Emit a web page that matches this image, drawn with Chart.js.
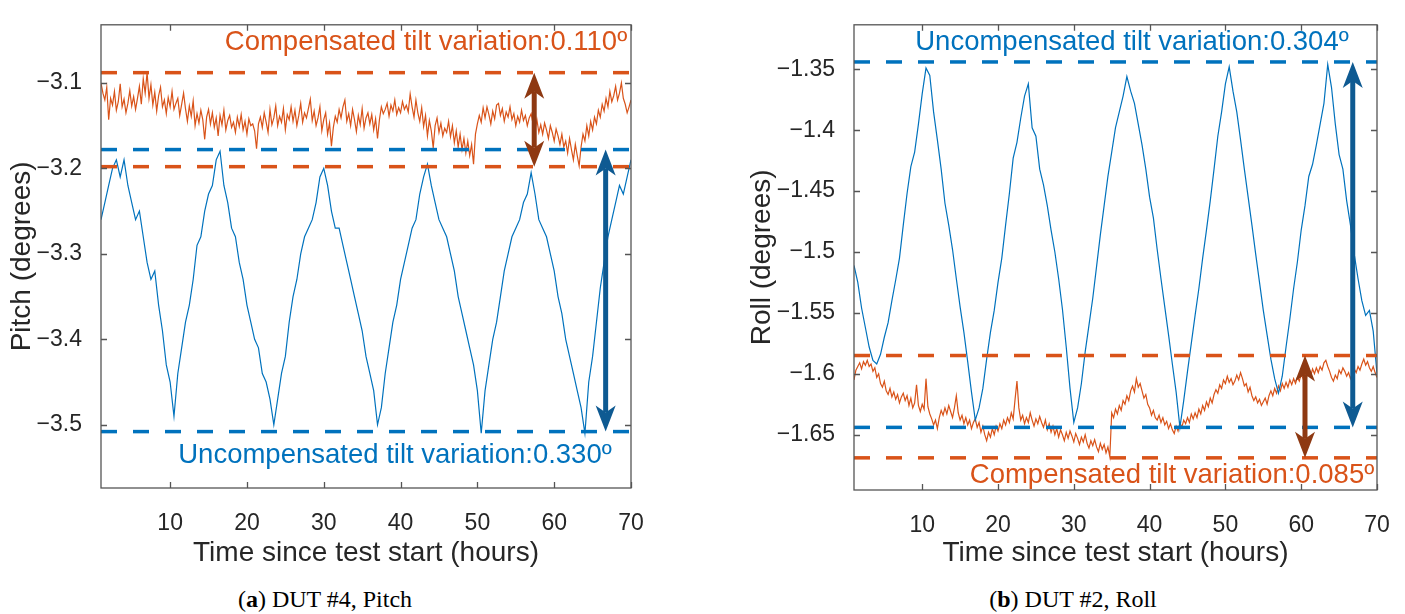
<!DOCTYPE html>
<html>
<head>
<meta charset="utf-8">
<script src="https://cdn.jsdelivr.net/npm/chart.js@4.4.1/dist/chart.umd.min.js"></script>
<style>
  body { margin: 0; background: #fff; width: 1405px; height: 614px; overflow: hidden; position: relative; }
  canvas { position: absolute; top: 0; }
  #pitchCanvas { left: 0; }
  #rollCanvas { left: 740px; }
  .caption { position: absolute; top: 587px; width: 400px; text-align: center; font-family: "Liberation Serif", serif; font-size: 24px; line-height: 24px; color: #000; }
</style>
</head>
<body>
<canvas id="pitchCanvas" width="700" height="580" style="width:700px;height:580px"></canvas>
<canvas id="rollCanvas" width="665" height="580" style="width:665px;height:580px"></canvas>
<div class="caption" style="left:125px">(<b>a</b>) DUT #4, Pitch</div>
<div class="caption" style="left:873px">(<b>b</b>) DUT #2, Roll</div>
<script>
// ---- data ----
const hourTicks = [10, 20, 30, 40, 50, 60, 70]
const pitchTicks = [-3.5, -3.4, -3.3, -3.2, -3.1]
const rollTicks = [-1.65, -1.6, -1.55, -1.5, -1.45, -1.4, -1.35]

// uncompensated pitch, every 0.5 h from 1 h
const pitchUncomp = [
  -3.26, -3.24, -3.22, -3.20, -3.19, -3.21, -3.19, -3.22, -3.24, -3.26,   // 1
  -3.25, -3.28, -3.31, -3.33, -3.32, -3.36, -3.39, -3.43, -3.45, -3.49,   // 6
  -3.44, -3.41, -3.38, -3.36, -3.33, -3.29, -3.28, -3.25, -3.23, -3.22,   // 11
  -3.19, -3.18, -3.22, -3.24, -3.27, -3.28, -3.31, -3.33, -3.36, -3.38,   // 16
  -3.40, -3.41, -3.44, -3.45, -3.47, -3.50, -3.47, -3.44, -3.42, -3.38,   // 21
  -3.35, -3.33, -3.30, -3.28, -3.27, -3.26, -3.24, -3.21, -3.20, -3.22,   // 26
  -3.25, -3.27, -3.27, -3.29, -3.31, -3.33, -3.35, -3.37, -3.39, -3.42,   // 31
  -3.44, -3.46, -3.50, -3.48, -3.44, -3.41, -3.38, -3.36, -3.33, -3.31,   // 36
  -3.29, -3.27, -3.26, -3.23, -3.21, -3.195, -3.22, -3.24, -3.26, -3.27,  // 41
  -3.28, -3.30, -3.32, -3.35, -3.37, -3.39, -3.41, -3.43, -3.46, -3.51,   // 46
  -3.46, -3.43, -3.40, -3.38, -3.35, -3.32, -3.30, -3.28, -3.27, -3.26,   // 51
  -3.24, -3.23, -3.205, -3.23, -3.26, -3.27, -3.28, -3.30, -3.32, -3.35,  // 56
  -3.37, -3.40, -3.42, -3.44, -3.46, -3.48, -3.51, -3.45, -3.42, -3.38,   // 61
  -3.34, -3.31, -3.28, -3.26, -3.24, -3.22, -3.23, -3.21, -3.19           // 66
]

// compensated pitch, every 0.25 h from 1 h
const pitchComp = [
  -3.100, -3.112, -3.120, -3.105, -3.143, -3.118, -3.126, -3.110, -3.132, -3.122, -3.101, -3.128, -3.119, -3.135, -3.124, -3.109, -3.127, -3.116, -3.131, -3.118, // 1
  -3.104, -3.125, -3.095, -3.112, -3.088, -3.118, -3.102, -3.126, -3.111, -3.133, -3.115, -3.105, -3.128, -3.120, -3.136, -3.117, -3.128, -3.110, -3.131, -3.124, // 6
  -3.118, -3.138, -3.125, -3.112, -3.130, -3.145, -3.127, -3.139, -3.121, -3.150, -3.136, -3.147, -3.132, -3.143, -3.166, -3.140, -3.131, -3.148, -3.135, -3.152, // 11
  -3.141, -3.162, -3.138, -3.149, -3.132, -3.155, -3.144, -3.138, -3.152, -3.146, -3.158, -3.140, -3.151, -3.137, -3.155, -3.145, -3.160, -3.142, -3.150, -3.148, // 16
  -3.156, -3.177, -3.148, -3.140, -3.152, -3.135, -3.146, -3.158, -3.131, -3.149, -3.141, -3.127, -3.150, -3.139, -3.146, -3.130, -3.155, -3.137, -3.143, -3.128, // 21
  -3.145, -3.132, -3.150, -3.138, -3.124, -3.146, -3.135, -3.141, -3.130, -3.119, -3.144, -3.133, -3.150, -3.141, -3.128, -3.156, -3.143, -3.135, -3.160, -3.147, // 26
  -3.174, -3.152, -3.139, -3.146, -3.131, -3.141, -3.128, -3.120, -3.145, -3.136, -3.150, -3.131, -3.143, -3.157, -3.138, -3.149, -3.130, -3.153, -3.141, -3.135, // 31
  -3.148, -3.137, -3.155, -3.142, -3.165, -3.143, -3.128, -3.136, -3.131, -3.124, -3.139, -3.126, -3.133, -3.120, -3.137, -3.129, -3.135, -3.122, -3.131, -3.126, // 36
  -3.134, -3.113, -3.128, -3.140, -3.120, -3.135, -3.145, -3.129, -3.151, -3.138, -3.162, -3.144, -3.156, -3.176, -3.150, -3.141, -3.158, -3.147, -3.162, -3.153, // 41
  -3.158, -3.145, -3.163, -3.150, -3.170, -3.156, -3.175, -3.160, -3.178, -3.165, -3.182, -3.168, -3.185, -3.172, -3.195, -3.160, -3.148, -3.138, -3.146, -3.129, // 46
  -3.141, -3.128, -3.137, -3.148, -3.133, -3.142, -3.126, -3.124, -3.138, -3.130, -3.145, -3.134, -3.140, -3.128, -3.143, -3.136, -3.150, -3.139, -3.146, -3.132, // 51
  -3.144, -3.138, -3.150, -3.141, -3.136, -3.148, -3.155, -3.143, -3.158, -3.149, -3.160, -3.147, -3.155, -3.165, -3.150, -3.158, -3.168, -3.154, -3.162, -3.172, // 56
  -3.160, -3.175, -3.168, -3.182, -3.165, -3.178, -3.190, -3.172, -3.185, -3.197, -3.175, -3.160, -3.168, -3.150, -3.162, -3.145, -3.155, -3.140, -3.148, -3.132, // 61
  -3.140, -3.125, -3.133, -3.118, -3.128, -3.110, -3.122, -3.115, -3.104, -3.120, -3.112, -3.100, -3.118, -3.125, -3.135, -3.128, -3.120                           // 66
]

// uncompensated roll, every 0.5 h from 1 h
const rollUncomp = [
  -1.511, -1.525, -1.546, -1.562, -1.578, -1.589, -1.592, -1.584, -1.570, -1.558, // 1
  -1.540, -1.523, -1.505, -1.478, -1.452, -1.430, -1.418, -1.395, -1.370, -1.349, // 6
  -1.355, -1.385, -1.408, -1.432, -1.460, -1.478, -1.498, -1.522, -1.545, -1.566, // 11
  -1.590, -1.615, -1.638, -1.628, -1.612, -1.588, -1.566, -1.548, -1.525, -1.505, // 16
  -1.478, -1.452, -1.423, -1.410, -1.390, -1.372, -1.362, -1.398, -1.405, -1.432, // 21
  -1.445, -1.462, -1.482, -1.500, -1.522, -1.547, -1.578, -1.612, -1.640, -1.628, // 26
  -1.608, -1.582, -1.560, -1.538, -1.512, -1.486, -1.462, -1.438, -1.418, -1.398, // 31
  -1.385, -1.372, -1.356, -1.368, -1.378, -1.395, -1.412, -1.432, -1.455, -1.472, // 36
  -1.498, -1.522, -1.545, -1.568, -1.592, -1.615, -1.644, -1.622, -1.598, -1.575, // 41
  -1.552, -1.530, -1.505, -1.482, -1.458, -1.432, -1.405, -1.385, -1.362, -1.348, // 46
  -1.368, -1.385, -1.408, -1.432, -1.455, -1.478, -1.502, -1.525, -1.548, -1.568, // 51
  -1.588, -1.604, -1.616, -1.602, -1.578, -1.555, -1.530, -1.508, -1.482, -1.462, // 56
  -1.438, -1.428, -1.412, -1.395, -1.378, -1.346, -1.365, -1.395, -1.420, -1.432, // 61
  -1.458, -1.478, -1.502, -1.522, -1.540, -1.552, -1.548, -1.565, -1.600          // 66
]

// compensated roll, every 0.25 h from 1 h
const rollComp = [
  -1.605, -1.597, -1.594, -1.591, -1.596, -1.590, -1.593, -1.589, -1.594, -1.592, -1.598, -1.595, -1.603, -1.600, -1.608, -1.611, -1.606, -1.614, -1.617, -1.612, // 1
  -1.619, -1.615, -1.621, -1.617, -1.624, -1.619, -1.616, -1.622, -1.618, -1.626, -1.620, -1.628, -1.624, -1.609, -1.626, -1.631, -1.625, -1.629, -1.604, -1.627, // 6
  -1.633, -1.637, -1.642, -1.638, -1.645, -1.636, -1.630, -1.634, -1.628, -1.633, -1.626, -1.631, -1.636, -1.628, -1.618, -1.632, -1.638, -1.634, -1.641, -1.636, // 11
  -1.642, -1.638, -1.645, -1.640, -1.637, -1.644, -1.640, -1.648, -1.643, -1.650, -1.655, -1.648, -1.652, -1.645, -1.650, -1.643, -1.647, -1.641, -1.645, -1.638, // 16
  -1.642, -1.636, -1.640, -1.632, -1.637, -1.621, -1.606, -1.628, -1.638, -1.634, -1.641, -1.636, -1.640, -1.632, -1.638, -1.643, -1.637, -1.641, -1.635, -1.640, // 21
  -1.644, -1.638, -1.646, -1.641, -1.648, -1.643, -1.650, -1.645, -1.652, -1.646, -1.650, -1.655, -1.648, -1.653, -1.647, -1.651, -1.656, -1.649, -1.653, -1.658, // 26
  -1.652, -1.656, -1.650, -1.657, -1.661, -1.655, -1.659, -1.654, -1.660, -1.664, -1.657, -1.662, -1.658, -1.665, -1.660, -1.668, -1.632, -1.636, -1.629, -1.633, // 31
  -1.626, -1.630, -1.622, -1.625, -1.618, -1.622, -1.614, -1.610, -1.615, -1.604, -1.611, -1.608, -1.614, -1.620, -1.617, -1.625, -1.628, -1.634, -1.630, -1.636, // 36
  -1.638, -1.634, -1.640, -1.636, -1.642, -1.639, -1.645, -1.641, -1.646, -1.649, -1.643, -1.647, -1.640, -1.644, -1.638, -1.641, -1.636, -1.640, -1.633, -1.637, // 41
  -1.632, -1.636, -1.629, -1.633, -1.626, -1.630, -1.623, -1.627, -1.620, -1.624, -1.617, -1.613, -1.616, -1.609, -1.612, -1.605, -1.608, -1.602, -1.607, -1.604, // 46
  -1.609, -1.606, -1.601, -1.605, -1.599, -1.604, -1.610, -1.608, -1.615, -1.611, -1.618, -1.622, -1.619, -1.624, -1.621, -1.626, -1.623, -1.620, -1.625, -1.618, // 51
  -1.614, -1.618, -1.612, -1.616, -1.610, -1.614, -1.608, -1.612, -1.607, -1.611, -1.605, -1.609, -1.604, -1.608, -1.603, -1.606, -1.600, -1.604, -1.599, -1.602, // 56
  -1.598, -1.602, -1.596, -1.600, -1.595, -1.599, -1.594, -1.597, -1.591, -1.589, -1.594, -1.598, -1.603, -1.606, -1.601, -1.604, -1.597, -1.600, -1.595, -1.598, // 61
  -1.602, -1.599, -1.604, -1.600, -1.596, -1.599, -1.594, -1.597, -1.592, -1.588, -1.593, -1.590, -1.595, -1.598, -1.594, -1.599, -1.603                           // 66
]

// min / max of each trace (dashed lines and arrows)
const pitchCompBand = [-3.198, -3.088]
const pitchUncompBand = [-3.508, -3.178]
const rollCompBand = [-1.669, -1.585]
const rollUncompBand = [-1.644, -1.344]
const pitchArrowHours = [57.4, 66.7]   // [compensated, uncompensated]
const rollArrowHours = [60.5, 66.8]

// ---- styling ----
const FONT = '"Liberation Sans", Arial, sans-serif'
const TEXT_COLOR = '#262626'
const BLUE = '#0072BD'
const ORANGE = '#D95319'
const ARROW_BLUE = '#0E5A92'
const ARROW_BROWN = '#8E3912'
const X_MIN = 1
const X_MAX = 70

const hoursFor = (vals, step) => vals.map((_, i) => X_MIN + i * step)

const trace = (vals, step, color) => {
  const hrs = hoursFor(vals, step)
  return {
    data: vals.map((v, i) => ({ x: hrs[i], y: v })),
    borderColor: color,
    borderWidth: 1.2,
    pointRadius: 0,
    order: 2
  }
}

const dashed = (v, color) => ({
  data: [{ x: X_MIN, y: v }, { x: X_MAX, y: v }],
  borderColor: color,
  borderWidth: 3.5,
  borderDash: [16, 16],
  pointRadius: 0,
  order: 1,
  clip: false
})

const minusFmt = (v) => (v < 0 ? '\u2212' + Math.abs(v) : String(v))

function drawArrow(ctx, x, yTop, yBot, color) {
  const len = 26, hw = 10, notch = 7
  ctx.fillStyle = color
  ctx.strokeStyle = color
  ctx.lineWidth = 5
  ctx.beginPath()
  ctx.moveTo(x, yTop + len - notch)
  ctx.lineTo(x, yBot - len + notch)
  ctx.stroke()
  // top head
  ctx.beginPath()
  ctx.moveTo(x, yTop)
  ctx.lineTo(x + hw, yTop + len)
  ctx.lineTo(x, yTop + len - notch)
  ctx.lineTo(x - hw, yTop + len)
  ctx.closePath()
  ctx.fill()
  // bottom head
  ctx.beginPath()
  ctx.moveTo(x, yBot)
  ctx.lineTo(x + hw, yBot - len)
  ctx.lineTo(x, yBot - len + notch)
  ctx.lineTo(x - hw, yBot - len)
  ctx.closePath()
  ctx.fill()
}

// matlab style box, inward ticks, arrows and text notes
const matlabBox = {
  id: 'matlabBox',
  afterDatasetsDraw(chart, args, opts) {
    const { ctx, chartArea: a, scales: { x, y } } = chart
    ctx.save()
    opts.arrows.forEach(ar => {
      drawArrow(ctx, x.getPixelForValue(ar.hour), y.getPixelForValue(ar.band[1]), y.getPixelForValue(ar.band[0]), ar.color)
    })
    ctx.font = '27.5px ' + FONT
    ctx.textAlign = 'center'
    ctx.textBaseline = 'alphabetic'
    opts.notes.forEach(n => {
      ctx.fillStyle = n.color
      ctx.fillText(n.text, n.x, n.y)
    })
    ctx.strokeStyle = '#555'
    ctx.lineWidth = 1.3
    ctx.strokeRect(a.left, a.top, a.right - a.left, a.bottom - a.top)
    ctx.beginPath()
    const T = 6
    x.ticks.forEach(t => {
      const px = Math.round(x.getPixelForValue(t.value)) + 0.5
      ctx.moveTo(px, a.bottom); ctx.lineTo(px, a.bottom - T)
      ctx.moveTo(px, a.top); ctx.lineTo(px, a.top + T)
    })
    y.ticks.forEach(t => {
      const py = Math.round(y.getPixelForValue(t.value)) + 0.5
      ctx.moveTo(a.left, py); ctx.lineTo(a.left + T, py)
      ctx.moveTo(a.right, py); ctx.lineTo(a.right - T, py)
    })
    ctx.stroke()
    ctx.restore()
  }
}

function makePlot(canvasId, cfg) {
  return new Chart(document.getElementById(canvasId), {
    type: 'line',
    data: { datasets: cfg.datasets },
    options: {
      responsive: false,
      animation: false,
      layout: { padding: cfg.padding },
      plugins: {
        legend: { display: false },
        tooltip: { enabled: false },
        matlabBox: { arrows: cfg.arrows, notes: cfg.notes }
      },
      scales: {
        x: {
          type: 'linear', min: X_MIN, max: X_MAX,
          afterBuildTicks: s => { s.ticks = hourTicks.map(v => ({ value: v })) },
          afterFit: s => { s.height = cfg.xHeight },
          grid: { display: false }, border: { display: false },
          ticks: { color: TEXT_COLOR, font: { family: FONT, size: 23 }, padding: 14, maxRotation: 0, autoSkip: false },
          title: { display: true, text: 'Time since test start (hours)', color: TEXT_COLOR, font: { family: FONT, size: 28 }, padding: { top: 0, bottom: 10 } }
        },
        y: {
          type: 'linear', min: cfg.yRange[0], max: cfg.yRange[1],
          afterBuildTicks: s => { s.ticks = cfg.yTicks.map(v => ({ value: v })) },
          afterFit: s => { s.width = cfg.yWidth },
          grid: { display: false }, border: { display: false },
          ticks: { color: TEXT_COLOR, font: { family: FONT, size: 23 }, padding: 11, autoSkip: false, callback: minusFmt },
          title: { display: true, text: cfg.yTitle, color: TEXT_COLOR, font: { family: FONT, size: 28 }, padding: { top: 5, bottom: 0 } }
        }
      }
    },
    plugins: [matlabBox]
  })
}

makePlot('pitchCanvas', {
  datasets: [
    trace(pitchUncomp, 0.5, BLUE),
    trace(pitchComp, 0.25, ORANGE),
    dashed(pitchCompBand[1], ORANGE), dashed(pitchCompBand[0], ORANGE),
    dashed(pitchUncompBand[1], BLUE), dashed(pitchUncompBand[0], BLUE)
  ],
  padding: { top: 12, right: 69, left: 0, bottom: 0 },
  xHeight: 92, yWidth: 101,
  yRange: [-3.574, -3.032], yTicks: pitchTicks, yTitle: 'Pitch (degrees)',
  arrows: [
    { hour: pitchArrowHours[0], band: pitchCompBand, color: ARROW_BROWN },
    { hour: pitchArrowHours[1], band: pitchUncompBand, color: ARROW_BLUE }
  ],
  notes: [
    { text: 'Compensated tilt variation:0.110º', x: 426, y: 50, color: ORANGE },
    { text: 'Uncompensated tilt variation:0.330º', x: 395, y: 463, color: BLUE }
  ]
})

makePlot('rollCanvas', {
  datasets: [
    trace(rollUncomp, 0.5, BLUE),
    trace(rollComp, 0.25, ORANGE),
    dashed(rollCompBand[1], ORANGE), dashed(rollCompBand[0], ORANGE),
    dashed(rollUncompBand[1], BLUE), dashed(rollUncompBand[0], BLUE)
  ],
  padding: { top: 19, right: 28, left: 0, bottom: 0 },
  xHeight: 90, yWidth: 114,
  yRange: [-1.6954, -1.3135], yTicks: rollTicks, yTitle: 'Roll (degrees)',
  arrows: [
    { hour: rollArrowHours[0], band: rollCompBand, color: ARROW_BROWN },
    { hour: rollArrowHours[1], band: rollUncompBand, color: ARROW_BLUE }
  ],
  notes: [
    { text: 'Uncompensated tilt variation:0.304º', x: 392, y: 50, color: BLUE },
    { text: 'Compensated tilt variation:0.085º', x: 432, y: 483, color: ORANGE }
  ]
})
</script>
</body>
</html>
